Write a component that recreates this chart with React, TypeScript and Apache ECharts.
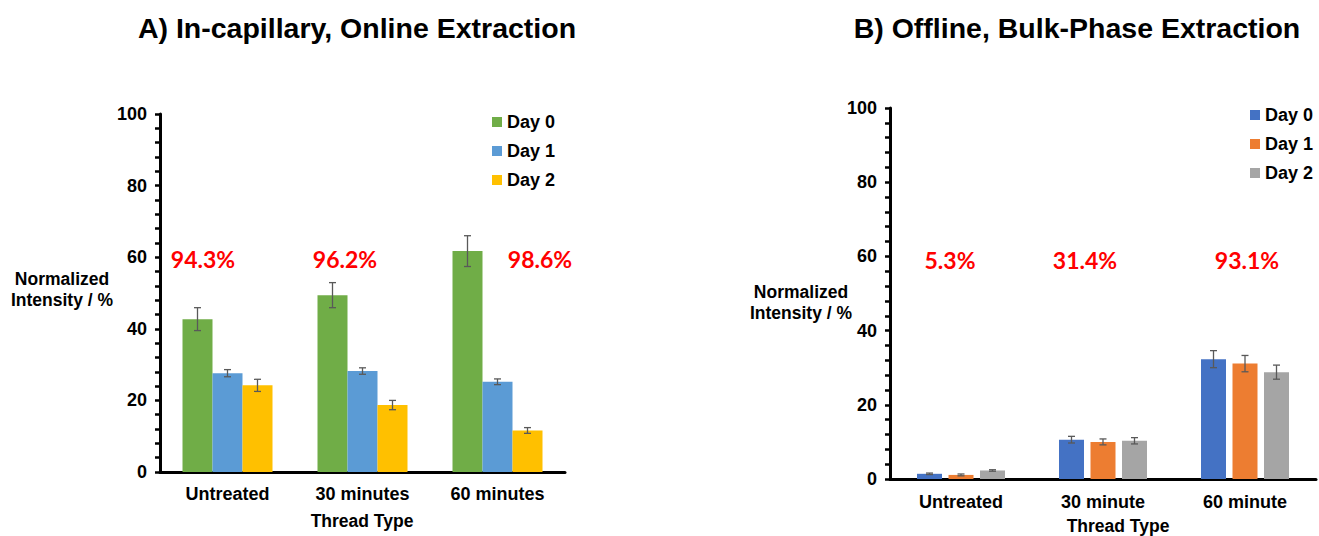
import React, { useEffect, useRef } from "react";
import * as echarts from "echarts";

// Panel A: in-capillary, online extraction
const CATS_A = ["Untreated", "30 minutes", "60 minutes"];
const A_DAY0 = [42.7, 49.4, 61.7];
const A_DAY0_ERR = [3.2, 3.5, 4.3];
const A_DAY1 = [27.6, 28.2, 25.2];
const A_DAY1_ERR = [1.0, 0.9, 0.8];
const A_DAY2 = [24.2, 18.7, 11.6];
const A_DAY2_ERR = [1.7, 1.3, 0.8];
const A_RECOVERY = ["94.3%", "96.2%", "98.6%"];

// Panel B: offline, bulk-phase extraction
const CATS_B = ["Untreated", "30 minute", "60 minute"];
const B_DAY0 = [1.4, 10.6, 32.3];
const B_DAY0_ERR = [0.2, 0.9, 2.3];
const B_DAY1 = [1.1, 10.0, 31.1];
const B_DAY1_ERR = [0.25, 0.8, 2.2];
const B_DAY2 = [2.3, 10.3, 28.8];
const B_DAY2_ERR = [0.2, 0.85, 1.9];
const B_RECOVERY = ["5.3%", "31.4%", "93.1%"];

const SERIES_NAMES = ["Day 0", "Day 1", "Day 2"];
const Y_TICKS = { min: 0, max: 100, interval: 20 };

const FONT = "'Liberation Sans', Arial, sans-serif";
const LABEL_FONT = "Lato, 'Open Sans', sans-serif";

type PanelCfg = {
  title: string;
  titleX: number;
  categories: string[];
  values: number[][];
  errors: number[][];
  colors: string[];
  recovery: string[];
  recoveryX: number[];
  recoveryY: number;
  grid: { left: number; top: number; width: number; height: number };
  barWidth: number;
  gapRatio: number;
  legend: { left: number; top: number };
  yName: { x: number; y: number };
  xName: { x: number; y: number };
  xLabelMargin: number;
};

function buildOption(p: PanelCfg) {
  const step = p.barWidth * (1 + p.gapRatio);
  const series: any[] = SERIES_NAMES.map((name, i) => ({
    type: "bar",
    name,
    data: p.values[i],
    barWidth: p.barWidth,
    barGap: `${p.gapRatio * 100}%`,
    itemStyle: { color: p.colors[i] },
    z: 2,
  }));

  const errData: number[][] = [];
  p.values.forEach((vals, i) =>
    vals.forEach((v, j) => errData.push([j, v - p.errors[i][j], v + p.errors[i][j], i]))
  );

  series.push({
    type: "custom",
    data: errData,
    z: 5,
    silent: true,
    encode: { x: 0, y: [1, 2] },
    renderItem: (_params: any, api: any) => {
      const cat = api.value(0);
      const k = api.value(3);
      const hi = api.coord([cat, api.value(2)]);
      const lo = api.coord([cat, api.value(1)]);
      const x = hi[0] + (k - 1) * step;
      const cap = 3.5;
      const style = { stroke: "#595959", lineWidth: 1.3 };
      return {
        type: "group",
        children: [
          { type: "line", shape: { x1: x, y1: hi[1], x2: x, y2: lo[1] }, style },
          { type: "line", shape: { x1: x - cap, y1: hi[1], x2: x + cap, y2: hi[1] }, style },
          { type: "line", shape: { x1: x - cap, y1: lo[1], x2: x + cap, y2: lo[1] }, style },
        ],
      };
    },
  });

  const graphic: any[] = [
    {
      type: "text",
      x: p.titleX,
      y: 28,
      style: {
        text: p.title,
        font: `bold 28.5px ${FONT}`,
        fill: "#000",
        textAlign: "center",
        textVerticalAlign: "middle",
      },
    },
    {
      type: "text",
      x: p.yName.x,
      y: p.yName.y,
      style: {
        text: "Normalized\nIntensity / %",
        font: `bold 17.5px ${FONT}`,
        lineHeight: 21,
        fill: "#000",
        textAlign: "center",
        textVerticalAlign: "middle",
      },
    },
    {
      type: "text",
      x: p.xName.x,
      y: p.xName.y,
      style: {
        text: "Thread Type",
        font: `bold 17.5px ${FONT}`,
        fill: "#000",
        textAlign: "center",
        textVerticalAlign: "middle",
      },
    },
    ...p.recovery.map((t, i) => ({
      type: "text",
      x: p.recoveryX[i],
      y: p.recoveryY,
      style: {
        text: t,
        font: `bold 23px ${LABEL_FONT}`,
        fill: "#FF0000",
        textAlign: "center",
        textVerticalAlign: "middle",
      },
    })),
  ];

  return {
    animation: false,
    backgroundColor: "#fff",
    textStyle: { fontFamily: FONT },
    grid: { ...p.grid, containLabel: false },
    legend: {
      data: SERIES_NAMES,
      orient: "vertical",
      left: p.legend.left,
      top: p.legend.top,
      padding: 0,
      icon: "rect",
      itemWidth: 10,
      itemHeight: 10,
      itemGap: 9,
      textStyle: {
        fontFamily: FONT,
        fontWeight: "bold",
        fontSize: 18,
        lineHeight: 20,
        color: "#000",
      },
    },
    xAxis: {
      type: "category",
      data: p.categories,
      axisLine: { show: true, lineStyle: { color: "#000", width: 3 } },
      axisTick: { show: false },
      axisLabel: {
        color: "#000",
        fontFamily: FONT,
        fontWeight: "bold",
        fontSize: 18,
        margin: p.xLabelMargin,
      },
    },
    yAxis: {
      type: "value",
      min: Y_TICKS.min,
      max: Y_TICKS.max,
      interval: Y_TICKS.interval,
      axisLine: { show: true, lineStyle: { color: "#000", width: 3 } },
      axisTick: { show: true, length: 5, lineStyle: { color: "#000", width: 2.5 } },
      minorTick: { show: true, splitNumber: 5, length: 5, lineStyle: { color: "#000", width: 2.5 } },
      splitLine: { show: false },
      axisLabel: {
        color: "#000",
        fontFamily: FONT,
        fontWeight: "bold",
        fontSize: 18,
        margin: 13,
      },
    },
    series,
    graphic,
  };
}

const PANEL_A: PanelCfg = {
  title: "A) In-capillary, Online Extraction",
  titleX: 357,
  categories: CATS_A,
  values: [A_DAY0, A_DAY1, A_DAY2],
  errors: [A_DAY0_ERR, A_DAY1_ERR, A_DAY2_ERR],
  colors: ["#70AD47", "#5B9BD5", "#FFC000"],
  recovery: A_RECOVERY,
  recoveryX: [203, 345, 540],
  recoveryY: 259,
  grid: { left: 160, top: 114, width: 405, height: 358 },
  barWidth: 30,
  gapRatio: 0,
  legend: { left: 492, top: 112 },
  yName: { x: 62, y: 289 },
  xName: { x: 362, y: 521 },
  xLabelMargin: 13,
};

const PANEL_B: PanelCfg = {
  title: "B) Offline, Bulk-Phase Extraction",
  titleX: 417,
  categories: CATS_B,
  values: [B_DAY0, B_DAY1, B_DAY2],
  errors: [B_DAY0_ERR, B_DAY1_ERR, B_DAY2_ERR],
  colors: ["#4472C4", "#ED7D31", "#A5A5A5"],
  recovery: B_RECOVERY,
  recoveryX: [290, 425, 587],
  recoveryY: 260,
  grid: { left: 230, top: 108, width: 426, height: 371 },
  barWidth: 25,
  gapRatio: 0.26,
  legend: { left: 590, top: 105 },
  yName: { x: 141, y: 302 },
  xName: { x: 458, y: 526 },
  xLabelMargin: 14,
};

function Panel({ cfg, left, width }: { cfg: PanelCfg; left: number; width: number }) {
  const ref = useRef<HTMLDivElement>(null);
  useEffect(() => {
    if (!ref.current) return;
    const chart = echarts.init(ref.current, undefined, { renderer: "svg" });
    chart.setOption(buildOption(cfg) as any);
    return () => chart.dispose();
  }, [cfg]);
  return (
    <div
      ref={ref}
      style={{ position: "absolute", left, top: 0, width, height: 536 }}
    />
  );
}

export default function App() {
  return (
    <div
      style={{
        position: "fixed",
        left: 0,
        top: 0,
        width: 1319,
        height: 536,
        background: "#fff",
        overflow: "hidden",
      }}
    >
      <Panel cfg={PANEL_A} left={0} width={660} />
      <Panel cfg={PANEL_B} left={660} width={659} />
    </div>
  );
}
